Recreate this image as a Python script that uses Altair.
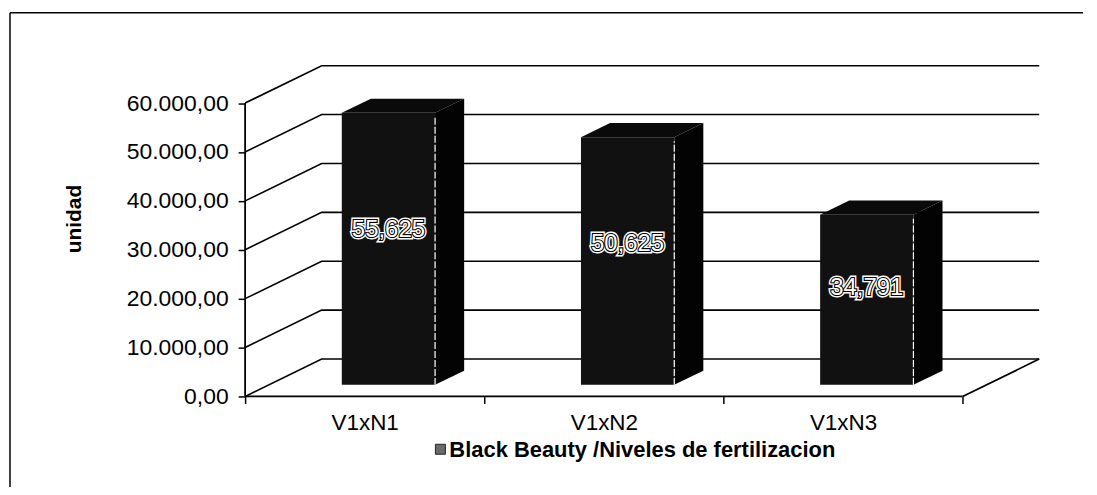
import altair as alt
import pandas as pd

# ---------------- data ----------------
categories = ["V1xN1", "V1xN2", "V1xN3"]
values = [55625, 50625, 34791]
value_labels = ["55,625", "50,625", "34,791"]
y_ticks = [0, 10000, 20000, 30000, 40000, 50000, 60000]
y_title = "unidad"
legend_label = "Black Beauty /Niveles de fertilizacion"

# ---------------- pseudo-3D style constants ----------------
XD = 0.32          # depth shift along x (category units)
YD = 7650          # depth shift along y (value units)
BAR_LO, BAR_HI = 0.305, 0.695   # bar extent inside a category slot
F0, F1 = 0.31, 0.69             # bar front/back depth fraction
LABEL_K = 0.57
YMAX = max(y_ticks)
N = len(categories)
FONT = "Liberation Sans"

W, H = 797, 332
xs = alt.Scale(domain=[0, N + XD], nice=False, zero=False)
ys = alt.Scale(domain=[0, YMAX + YD], nice=False, zero=False)

cat_list = ",".join("'%s'" % c for c in categories)
xaxis = alt.Axis(values=list(range(N + 1)), labelExpr="[%s][datum.value] || ''" % cat_list,
                 labelOffset=120, domain=False, grid=False, tickSize=7, tickWidth=1.5,
                 tickColor="black", labelPadding=8, labelFontSize=22.5, labelFont=FONT,
                 labelColor="black", labelOverlap=False, labelBound=False, labelFlush=False,
                 title=None)
yaxis = alt.Axis(values=y_ticks,
                 labelExpr="replace(replace(replace(format(datum.value, ',.2f'), ',', ' '), '.', ','), ' ', '.')",
                 domain=False, grid=False, tickSize=7, tickWidth=1.5, tickColor="black",
                 labelPadding=10, labelFontSize=23, labelFont=FONT, labelColor="black",
                 title=None)

def X(f):
    return alt.X(f, type="quantitative", scale=xs, axis=xaxis)

def Y(f):
    return alt.Y(f, type="quantitative", scale=ys, axis=yaxis)

# ---------------- gridlines (left wall + back wall) ----------------
grid_rows = []
for v in y_ticks:
    grid_rows += [
        {"v": v, "o": 0, "x": 0, "y": v},
        {"v": v, "o": 1, "x": XD, "y": v + YD},
        {"v": v, "o": 2, "x": N + XD, "y": v + YD},
    ]
grid = alt.Chart(pd.DataFrame(grid_rows)).mark_line(color="black", strokeWidth=1.6).encode(
    x=X("x"), y=Y("y"), detail="v:N", order="o:Q")

# floor front edge, right edge and y axis line
frame_rows = [
    {"g": "front", "o": 0, "x": 0, "y": 0}, {"g": "front", "o": 1, "x": N, "y": 0},
    {"g": "right", "o": 0, "x": N, "y": 0}, {"g": "right", "o": 1, "x": N + XD, "y": YD},
    {"g": "axis", "o": 0, "x": 0, "y": 0}, {"g": "axis", "o": 1, "x": 0, "y": YMAX},
]
frame = alt.Chart(pd.DataFrame(frame_rows)).mark_line(color="black", strokeWidth=1.8).encode(
    x=X("x"), y=Y("y"), detail="g:N", order="o:Q")

# ---------------- bars ----------------
front_rows, side_rows, top_rows, lab_rows = [], [], [], []
for i, (c, v, lab) in enumerate(zip(categories, values, value_labels)):
    front_rows.append({"c": c, "x": i + BAR_LO + F0 * XD, "x2": i + BAR_HI + F0 * XD,
                       "y": F0 * YD, "y2": v + F0 * YD})
    side_rows += [
        {"c": c, "x": i + BAR_HI + F0 * XD, "y": v + F0 * YD, "y2": F0 * YD},
        {"c": c, "x": i + BAR_HI + F1 * XD, "y": v + F1 * YD, "y2": F1 * YD},
    ]
    top_rows += [
        {"c": c, "y": v + F0 * YD, "x": i + BAR_LO + F0 * XD, "x2": i + BAR_HI + F0 * XD},
        {"c": c, "y": v + F1 * YD, "x": i + BAR_LO + F1 * XD, "x2": i + BAR_HI + F1 * XD},
    ]
    lab_rows.append({"c": c, "t": lab, "x": i + 0.5 + F0 * XD, "y": v * LABEL_K + F0 * YD,
                     "ex": i + BAR_HI + F0 * XD, "ey": F0 * YD, "ey2": v + F0 * YD - 800})

front = alt.Chart(pd.DataFrame(front_rows)).mark_rect(color="#111111").encode(
    x=X("x"), x2="x2", y=Y("y"), y2="y2")
side = alt.Chart(pd.DataFrame(side_rows)).mark_area(color="#030303", orient="vertical").encode(
    x=X("x"), y=Y("y"), y2="y2", detail="c:N")
top = alt.Chart(pd.DataFrame(top_rows)).mark_area(color="#0a0a0a", orient="horizontal").encode(
    y=Y("y"), x=X("x"), x2="x2", detail="c:N")

labdf = pd.DataFrame(lab_rows)
edge = alt.Chart(labdf).mark_rule(color="white", strokeWidth=1.2, strokeDash=[7, 2]).encode(
    x=X("ex"), y=Y("ey"), y2="ey2")
halo = alt.Chart(labdf).mark_text(font=FONT, fontSize=24, color="white", stroke="white",
                                  strokeWidth=5, baseline="middle").encode(
    x=X("x"), y=Y("y"), text="t:N")
ring = alt.Chart(labdf).mark_text(font=FONT, fontSize=24, color="black", stroke="black",
                                  strokeWidth=2.2, baseline="middle").encode(
    x=X("x"), y=Y("y"), text="t:N")
labels = alt.Chart(labdf).mark_text(font=FONT, fontSize=24, color="white",
                                    baseline="middle").encode(
    x=X("x"), y=Y("y"), text="t:N")

# ---------------- texts / decoration ----------------
one = pd.DataFrame({"t": [y_title]})
ytitle = alt.Chart(one).mark_text(font=FONT, fontSize=21, fontWeight="bold", angle=270,
                                  color="black", baseline="middle").encode(
    x=alt.value(-171), y=alt.value(154), text="t:N")

legdf = pd.DataFrame({"t": [legend_label]})
leg_sym = alt.Chart(legdf).mark_point(shape="square", filled=True, size=100, color="#6a6a6a",
                                      stroke="#222222", strokeWidth=1, opacity=1).encode(
    x=alt.value(196), y=alt.value(385))
leg_txt = alt.Chart(legdf).mark_text(font=FONT, fontSize=22, fontWeight="bold", align="left",
                                     baseline="middle", color="black").encode(
    x=alt.value(205), y=alt.value(386), text="t:N")

border_l = alt.Chart(one).mark_rule(color="black", strokeWidth=1.5).encode(
    x=alt.value(-236), y=alt.value(-53), y2=alt.value(H + 98))
border_t = alt.Chart(one).mark_rule(color="black", strokeWidth=1.5).encode(
    x=alt.value(-236), x2=alt.value(W + 44), y=alt.value(-53))

chart = alt.layer(
    grid, frame, side, top, front, edge, halo, ring, labels, ytitle, leg_sym, leg_txt,
    border_l, border_t
).properties(
    width=W, height=H,
    autosize=alt.AutoSizeParams(type="none"),
    padding={"left": 238, "top": 57, "right": 50, "bottom": 90},
    background="white",
).configure_view(stroke=None)

chart.save("out.html", embed_options={"renderer": "svg", "actions": False})
